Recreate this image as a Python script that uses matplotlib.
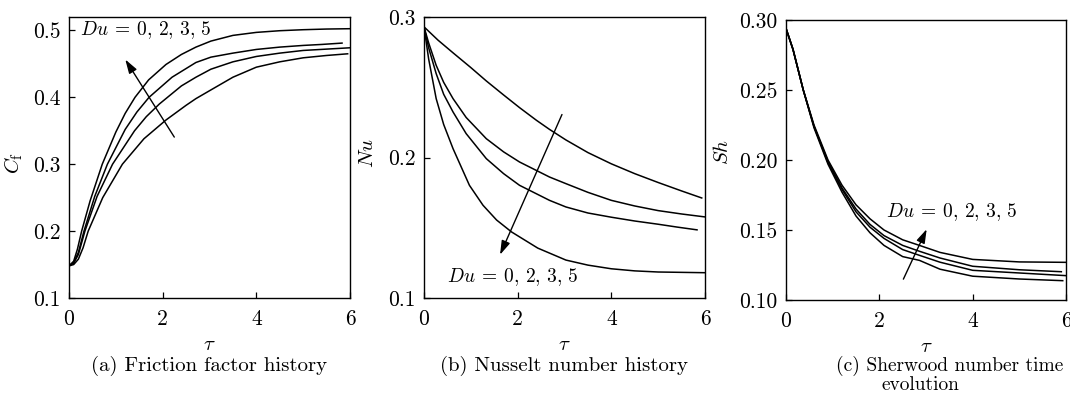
import matplotlib
matplotlib.use("Agg")
import matplotlib.pyplot as plt

plt.rcParams['font.family'] = 'serif'
plt.rcParams['font.serif'] = ['cmr10']
plt.rcParams['mathtext.fontset'] = 'cm'
plt.rcParams['axes.formatter.use_mathtext'] = True

# ---------------- data ----------------
du_label = r'$Du\:=\:0,\,2,\,3,\,5$'

# (a) friction factor C_f
tau_cf_du5 = [0, 0.1, 0.18, 0.27, 0.45, 0.71, 1.0, 1.2, 1.41, 1.7, 2.07, 2.4, 2.71, 3.03, 3.5, 4.0, 4.5, 5.0, 5.5, 6.0]
cf_du5 = [0.148, 0.155, 0.173, 0.200, 0.245, 0.300, 0.348, 0.376, 0.400, 0.426, 0.449, 0.464, 0.475, 0.484, 0.4925, 0.4970, 0.4995, 0.5010, 0.5020, 0.5025]
tau_cf_du3 = [0, 0.1, 0.2, 0.32, 0.55, 0.82, 1.2, 1.45, 1.71, 2.2, 2.71, 3.03, 3.5, 4.0, 4.5, 5.0, 5.4, 5.83]
cf_du3 = [0.148, 0.153, 0.168, 0.200, 0.252, 0.300, 0.352, 0.378, 0.400, 0.430, 0.452, 0.460, 0.466, 0.4715, 0.475, 0.4775, 0.479, 0.481]
tau_cf_du2 = [0, 0.1, 0.2, 0.34, 0.6, 0.93, 1.4, 1.65, 1.93, 2.4, 2.71, 3.03, 3.5, 4.0, 4.5, 5.0, 5.5, 6.0]
cf_du2 = [0.148, 0.152, 0.165, 0.200, 0.252, 0.300, 0.350, 0.371, 0.390, 0.417, 0.430, 0.442, 0.453, 0.461, 0.466, 0.470, 0.472, 0.474]
tau_cf_du0 = [0, 0.1, 0.2, 0.3, 0.41, 0.72, 1.14, 1.6, 2.07, 2.5, 2.71, 3.03, 3.5, 4.0, 4.5, 5.0, 5.5, 5.95]
cf_du0 = [0.148, 0.150, 0.158, 0.175, 0.200, 0.250, 0.300, 0.338, 0.366, 0.388, 0.398, 0.411, 0.430, 0.445, 0.453, 0.459, 0.4625, 0.465]

# (b) Nusselt number Nu
tau_nu_du0 = [0, 0.3, 0.62, 1.0, 1.33, 1.7, 2.04, 2.4, 2.68, 3.03, 3.5, 4.0, 4.5, 5.0, 5.5, 5.93]
nu_du0 = [0.293, 0.2835, 0.2745, 0.2640, 0.2545, 0.2445, 0.2355, 0.2265, 0.2200, 0.2125, 0.2035, 0.1955, 0.1885, 0.1822, 0.1762, 0.1712]
tau_nu_du2 = [0, 0.1, 0.26, 0.42, 0.62, 0.9, 1.33, 1.7, 2.04, 2.68, 3.03, 3.5, 4.0, 4.5, 5.0, 5.5, 6.0]
nu_du2 = [0.293, 0.2815, 0.2656, 0.2535, 0.2419, 0.2285, 0.2134, 0.2040, 0.1968, 0.1861, 0.1814, 0.1752, 0.1695, 0.1655, 0.1622, 0.1598, 0.1577]
tau_nu_du3 = [0, 0.1, 0.26, 0.42, 0.62, 0.9, 1.33, 1.7, 2.04, 2.68, 3.03, 3.5, 4.0, 4.5, 5.0, 5.4, 5.83]
nu_du3 = [0.293, 0.278, 0.2597, 0.2450, 0.2324, 0.2170, 0.1992, 0.1885, 0.1802, 0.1695, 0.1648, 0.1605, 0.1575, 0.1548, 0.1525, 0.1505, 0.1485]
tau_nu_du5 = [0, 0.1, 0.26, 0.42, 0.62, 0.97, 1.26, 1.55, 1.87, 2.43, 3.03, 3.5, 4.0, 4.5, 5.0, 6.0]
nu_du5 = [0.293, 0.270, 0.2419, 0.2235, 0.2063, 0.1802, 0.1660, 0.1555, 0.1470, 0.1355, 0.1270, 0.1234, 0.1208, 0.1193, 0.1185, 0.1180]

# (c) Sherwood number Sh
tau_sh = [0, 0.15, 0.37, 0.6, 0.9, 1.2, 1.5, 1.8, 2.1, 2.5, 2.86, 3.3, 4.0, 5.0]
sh_du5 = [0.294, 0.279, 0.250, 0.225, 0.200, 0.182, 0.168, 0.158, 0.150, 0.143, 0.1390, 0.1340, 0.1290, 0.1272]
sh_du3 = [0.294, 0.279, 0.250, 0.224, 0.199, 0.180, 0.165, 0.154, 0.146, 0.139, 0.1348, 0.1300, 0.1241, 0.1216]
sh_du2 = [0.294, 0.279, 0.250, 0.224, 0.198, 0.179, 0.163, 0.152, 0.144, 0.136, 0.1319, 0.1270, 0.1212, 0.1193]
sh_du0 = [0.294, 0.279, 0.250, 0.223, 0.197, 0.177, 0.160, 0.148, 0.139, 0.131, 0.1283, 0.1220, 0.1170, 0.1150]
sh_end_tau = [6.0, 5.9, 6.0, 5.93]
sh_end_val = [0.1269, 0.1202, 0.1174, 0.1138]

x_ticks = [0, 2, 4, 6]
cf_ticks = [0.1, 0.2, 0.3, 0.4, 0.5]
cf_ticklabels = ['0.1', '0.2', '0.3', '0.4', '0.5']
nu_ticks = [0.1, 0.2, 0.3]
nu_ticklabels = ['0.1', '0.2', '0.3']
sh_ticks = [0.10, 0.15, 0.20, 0.25, 0.30]
sh_ticklabels = ['0.10', '0.15', '0.20', '0.25', '0.30']

captions = ['(a) Friction factor history', '(b) Nusselt number history',
            '(c) Sherwood number time']
caption_c2 = 'evolution'

# ---------------- figure ----------------
W, H = 1070, 396
fig = plt.figure(figsize=(W / 100, H / 100), dpi=100)

def px_axes(l, t, r, b):
    return fig.add_axes([l / W, 1 - b / H, (r - l) / W, (b - t) / H])

axa = px_axes(69, 17, 350, 298)
axb = px_axes(424, 17, 705, 298)
axc = px_axes(786, 20, 1066, 300)

lw = 1.1
fs_tick = 15.5
fs_lab = 14
fs_cap = 15

for ax in (axa, axb, axc):
    ax.set_xlim(0, 6)
    ax.set_xticks(x_ticks)
    ax.set_xticklabels([str(t) for t in x_ticks])
    ax.tick_params(direction='in', length=4.5, width=0.9, labelsize=fs_tick,
                   top=False, right=False)
    ax.tick_params(axis='x', pad=8)
    ax.tick_params(axis='y', pad=6)
    for s in ax.spines.values():
        s.set_linewidth(1.0)
    ax.set_xlabel(r'$\tau$', fontsize=fs_lab + 1)
    ax.xaxis.set_label_coords(0.5, -0.135)

arrow_kw = dict(arrowstyle='-|>,head_length=0.7,head_width=0.22', color='k', lw=1.0, mutation_scale=12)

# (a)
for t, v in [(tau_cf_du5, cf_du5), (tau_cf_du3, cf_du3), (tau_cf_du2, cf_du2), (tau_cf_du0, cf_du0)]:
    axa.plot(t, v, color='k', lw=lw)
axa.set_ylim(0.1, 0.52)
axa.set_yticks(cf_ticks)
axa.set_yticklabels(cf_ticklabels)
axa.set_ylabel(r'$C_{\mathrm{f}}$', fontsize=fs_lab + 1)
axa.yaxis.set_label_coords(-0.157, 0.48)
axa.text(0.23, 0.5, du_label, fontsize=fs_lab, ha='left', va='center')
axa.annotate('', xy=(1.17, 0.46), xytext=(2.28, 0.337), arrowprops=arrow_kw)

# (b)
for t, v in [(tau_nu_du0, nu_du0), (tau_nu_du2, nu_du2), (tau_nu_du3, nu_du3), (tau_nu_du5, nu_du5)]:
    axb.plot(t, v, color='k', lw=lw)
axb.set_ylim(0.1, 0.3)
axb.set_yticks(nu_ticks)
axb.set_yticklabels(nu_ticklabels)
axb.set_ylabel(r'$Nu$', fontsize=fs_lab + 1)
axb.yaxis.set_label_coords(-0.168, 0.516)
axb.text(0.5, 0.115, du_label, fontsize=fs_lab, ha='left', va='center')
axb.annotate('', xy=(1.60, 0.129), xytext=(2.97, 0.2324), arrowprops=arrow_kw)

# (c)
for v, te, ve in zip([sh_du5, sh_du3, sh_du2, sh_du0], sh_end_tau, sh_end_val):
    axc.plot(tau_sh + [te], v + [ve], color='k', lw=lw)
axc.set_ylim(0.1, 0.3)
axc.set_yticks(sh_ticks)
axc.set_yticklabels(sh_ticklabels)
axc.set_ylabel(r'$Sh$', fontsize=fs_lab + 1)
axc.yaxis.set_label_coords(-0.194, 0.53)
axc.text(2.15, 0.1626, du_label, fontsize=fs_lab, ha='left', va='center')
axc.annotate('', xy=(3.04, 0.1524), xytext=(2.49, 0.1131), arrowprops=arrow_kw)

# captions
fig.text(209.5 / W, 1 - 366 / H, captions[0], fontsize=fs_cap, ha='center', va='center')
fig.text(564.5 / W, 1 - 366 / H, captions[1], fontsize=fs_cap, ha='center', va='center')
fig.text(836 / W, 1 - 366 / H, captions[2], fontsize=14, ha='left', va='center')
fig.text(882 / W, 1 - 385 / H, caption_c2, fontsize=14, ha='left', va='center')

fig.savefig('out.png', dpi=100)
